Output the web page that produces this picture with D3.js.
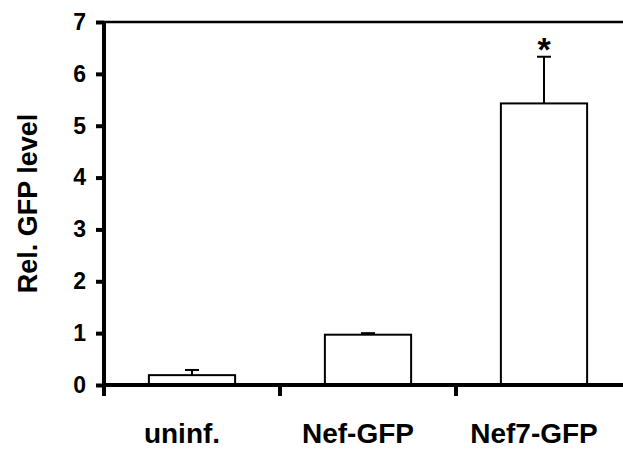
<!DOCTYPE html>
<html><head><meta charset="utf-8">
<script src="https://cdn.jsdelivr.net/npm/d3@7"></script>
<style>body{margin:0;background:#fff}svg{display:block}text{font-family:"Liberation Sans",Arial,sans-serif;font-weight:bold;fill:#000}</style>
</head><body><svg id="c" width="623" height="454"></svg>
<script>
const categories = ["uninf.", "Nef-GFP", "Nef7-GFP"];
const values = [0.19, 0.97, 5.43];
const errors = [0.10, 0.03, 0.90];
const significance = ["", "", "*"];
const yTicks = [0, 1, 2, 3, 4, 5, 6, 7];

const svg = d3.select("#c");
const x0 = 104, y0 = 385, yTop = 22;
const x = d3.scaleBand().domain(categories).range([x0, x0 + 3 * 176]).paddingInner(0.51).paddingOuter(0.255);
const y = d3.scaleLinear().domain([0, 7]).range([y0, yTop]);

// top line
svg.append("line").attr("x1", x0).attr("x2", 623).attr("y1", y(7)).attr("y2", y(7))
  .attr("stroke", "#000").attr("stroke-width", 2.5);

// bars
const bw = x.bandwidth();
svg.selectAll("rect.bar").data(values).join("rect")
  .attr("x", (d, i) => x(categories[i]))
  .attr("y", d => y(d))
  .attr("width", bw)
  .attr("height", d => y0 - y(d))
  .attr("fill", "#fff").attr("stroke", "#000").attr("stroke-width", 2);

// error bars
values.forEach((v, i) => {
  const cx = x(categories[i]) + bw / 2;
  svg.append("line").attr("x1", cx).attr("x2", cx).attr("y1", y(v)).attr("y2", y(v + errors[i]))
    .attr("stroke", "#000").attr("stroke-width", 2);
  svg.append("line").attr("x1", cx - 7).attr("x2", cx + 7).attr("y1", y(v + errors[i])).attr("y2", y(v + errors[i]))
    .attr("stroke", "#000").attr("stroke-width", 2);
  if (significance[i]) {
    svg.append("text").attr("x", cx).attr("y", y(v + errors[i]) + 4).attr("text-anchor", "middle")
      .attr("font-size", 34).text(significance[i]);
  }
});

// y axis
const yAxis = d3.axisLeft(y).tickValues(yTicks).tickSize(8).tickPadding(10).tickFormat(d3.format("d"));
const gy = svg.append("g").attr("transform", `translate(${x0},0)`).call(yAxis);
gy.select(".domain").remove();
gy.selectAll(".tick line").attr("stroke", "#000").attr("stroke-width", 4);
gy.selectAll(".tick text").attr("font-size", 23).attr("font-weight", "bold")
  .attr("font-family", "Liberation Sans, Arial, sans-serif");
svg.append("line").attr("x1", x0).attr("x2", x0).attr("y1", yTop - 1).attr("y2", y0 + 11)
  .attr("stroke", "#000").attr("stroke-width", 4);

// x axis
svg.append("line").attr("x1", x0).attr("x2", 623).attr("y1", y0).attr("y2", y0)
  .attr("stroke", "#000").attr("stroke-width", 4);
const xticks = [1, 2].map(k => x0 + k * 176);
svg.selectAll("line.xt").data(xticks).join("line")
  .attr("x1", d => d).attr("x2", d => d).attr("y1", y0).attr("y2", y0 + 11)
  .attr("stroke", "#000").attr("stroke-width", 4);
svg.selectAll("text.xl").data(categories).join("text")
  .attr("x", d => x(d) + bw / 2 - 10).attr("y", 443).attr("text-anchor", "middle")
  .attr("font-size", 28).text(d => d);

// y title
svg.append("text").attr("transform", `translate(37,${(y0 + yTop) / 2}) rotate(-90)`)
  .attr("text-anchor", "middle").attr("font-size", 27).text("Rel. GFP level");
</script></body></html>
